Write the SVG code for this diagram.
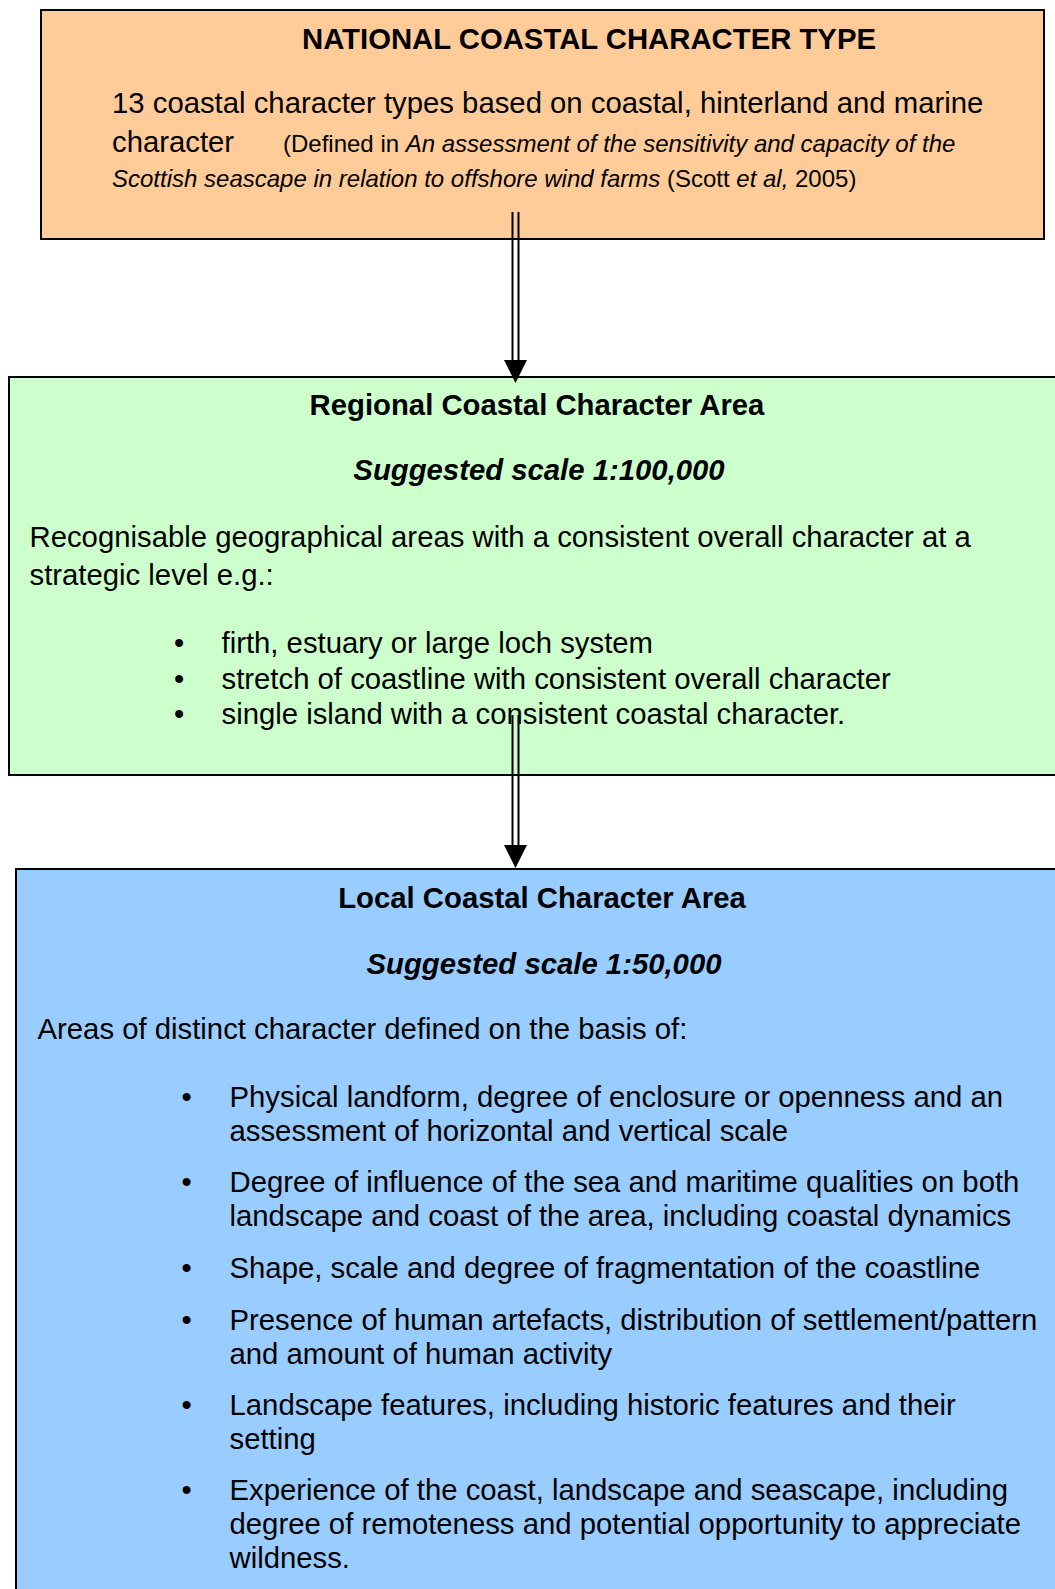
<svg xmlns="http://www.w3.org/2000/svg" width="1055" height="1589" viewBox="0 0 1055 1589">
<style>
.box{stroke:#000;stroke-width:2;fill:none}
text{font-family:"Liberation Sans",Arial,sans-serif;fill:#000}
.b{font-size:29.3px}
.h{font-size:29.3px;font-weight:bold;text-anchor:middle}
.hi{font-size:29.3px;font-weight:bold;font-style:italic;text-anchor:middle}
.s{font-size:24px}
.ln{stroke:#000;stroke-width:2;fill:none}
</style>
<rect width="1055" height="1589" fill="#fff"/>
<g id="national">
<rect x="41" y="10" width="1003" height="229" fill="#FFCC99" stroke="#000" stroke-width="2"/>
<text class="h" x="589" y="49">NATIONAL COASTAL CHARACTER TYPE</text>
<text class="b" x="112" y="113">13 coastal character types based on coastal, hinterland and marine</text>
<text class="b" x="112" y="152">character</text>
<text class="s" x="283" y="152">(Defined in <tspan font-style="italic">An assessment of the sensitivity and capacity of the</tspan></text>
<text class="s" x="112" y="187"><tspan font-style="italic">Scottish seascape in relation to offshore wind farms</tspan> (Scott <tspan font-style="italic">et al,</tspan> 2005)</text>
</g>
<g id="regional">
<rect x="9" y="377" width="1050" height="398" fill="#CCFFCC"/>
<path class="box" d="M1056 377 H9 V775 H1056"/>
<text class="h" x="537" y="414.5">Regional Coastal Character Area</text>
<text class="hi" x="539" y="480">Suggested scale 1:100,000</text>
<text class="b" x="29.5" y="546.5">Recognisable geographical areas with a consistent overall character at a</text>
<text class="b" x="29.5" y="584.5">strategic level e.g.:</text>
<text class="b" x="174" y="652.5">•</text>
<text class="b" x="221.5" y="652.5">firth, estuary or large loch system</text>
<text class="b" x="174" y="689">•</text>
<text class="b" x="221.5" y="689">stretch of coastline with consistent overall character</text>
<text class="b" x="174" y="723.5">•</text>
<text class="b" x="221.5" y="723.5">single island with a consistent coastal character.</text>
</g>
<g id="local">
<rect x="16" y="869" width="1045" height="725" fill="#99CCFF"/>
<path class="box" d="M1056 869 H16 V1590"/>
<text class="h" x="542" y="907.5">Local Coastal Character Area</text>
<text class="hi" x="544" y="974">Suggested scale 1:50,000</text>
<text class="b" x="37.5" y="1038.5">Areas of distinct character defined on the basis of:</text>
<text class="b" x="181.5" y="1107">•</text>
<text class="b" x="229.5" y="1107">Physical landform, degree of enclosure or openness and an</text>
<text class="b" x="229.5" y="1141">assessment of horizontal and vertical scale</text>
<text class="b" x="181.5" y="1192">•</text>
<text class="b" x="229.5" y="1192">Degree of influence of the sea and maritime qualities on both</text>
<text class="b" x="229.5" y="1225.5">landscape and coast of the area, including coastal dynamics</text>
<text class="b" x="181.5" y="1278">•</text>
<text class="b" x="229.5" y="1278">Shape, scale and degree of fragmentation of the coastline</text>
<text class="b" x="181.5" y="1330">•</text>
<text class="b" x="229.5" y="1330">Presence of human artefacts, distribution of settlement/pattern</text>
<text class="b" x="229.5" y="1364">and amount of human activity</text>
<text class="b" x="181.5" y="1415">•</text>
<text class="b" x="229.5" y="1415">Landscape features, including historic features and their</text>
<text class="b" x="229.5" y="1449">setting</text>
<text class="b" x="181.5" y="1499.5">•</text>
<text class="b" x="229.5" y="1499.5">Experience of the coast, landscape and seascape, including</text>
<text class="b" x="229.5" y="1533.5">degree of remoteness and potential opportunity to appreciate</text>
<text class="b" x="229.5" y="1567.5">wildness.</text>
</g>
<g id="connectors">
<line class="ln" x1="512.5" y1="212" x2="512.5" y2="362"/>
<line class="ln" x1="518.5" y1="212" x2="518.5" y2="362"/>
<polygon points="504,360 527,360 515.5,383" fill="#000"/>
<line class="ln" x1="512.5" y1="715" x2="512.5" y2="847"/>
<line class="ln" x1="518.5" y1="715" x2="518.5" y2="847"/>
<polygon points="504,845 527,845 515.5,868" fill="#000"/>
</g>
</svg>
